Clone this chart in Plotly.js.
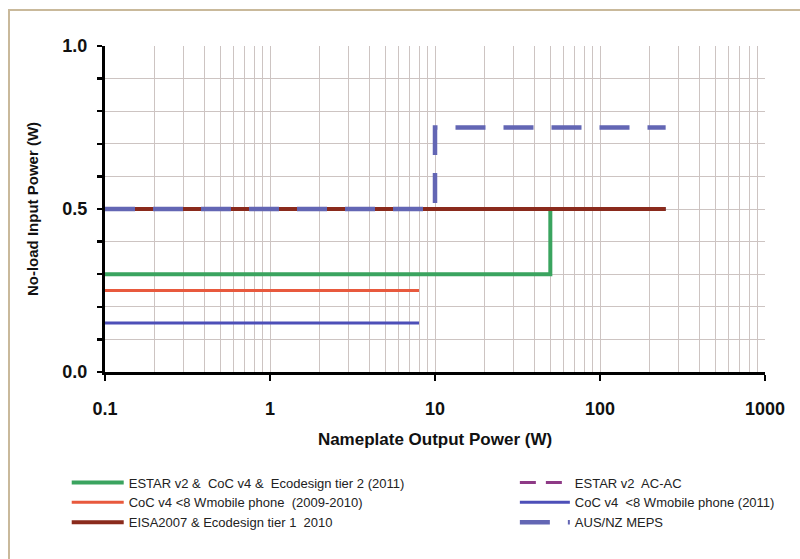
<!DOCTYPE html>
<html>
<head>
<meta charset="utf-8">
<script src="https://cdn.plot.ly/plotly-3.0.1.min.js"></script>
<style>
  html, body { margin: 0; padding: 0; background: #ffffff; }
  #wrap { position: relative; width: 800px; height: 559px; overflow: hidden; }
  #chart { width: 800px; height: 559px; }
  #frame { position: absolute; left: 8px; top: 9px; width: 820px; height: 600px;
           border-left: 2px solid #c9b99b; border-top: 2px solid #c9b99b; pointer-events: none; }
</style>
</head>
<body>
<div id="wrap">
  <div id="chart"></div>
  <div id="frame"></div>
</div>
<script>
// ---- data ----
const estarX = [0.1, 50, 50, 250];
const estarY = [0.3, 0.3, 0.5, 0.5];
const acacX = [0.1, 250];
const acacY = [0.5, 0.5];
const coc0910X = [0.1, 8];
const coc0910Y = [0.25, 0.25];
const coc2011X = [0.1, 8];
const coc2011Y = [0.15, 0.15];
const eisaX = [0.1, 250];
const eisaY = [0.5, 0.5];
const ausnzX = [0.1, 10, 10, 250];
const ausnzY = [0.5, 0.5, 0.75, 0.75];

const seriesNames = [
  'ESTAR v2 &  CoC v4 &  Ecodesign tier 2 (2011)',
  'ESTAR v2  AC-AC',
  'CoC v4 <8 Wmobile phone  (2009-2010)',
  'CoC v4  <8 Wmobile phone (2011)',
  'EISA2007 & Ecodesign tier 1  2010',
  'AUS/NZ MEPS'
];

const xTickVals = [0.1, 1, 10, 100, 1000];
const xTickText = ['0.1', '1', '10', '100', '1000'];
const yTickVals = [0, 0.1, 0.2, 0.3, 0.4, 0.5, 0.6, 0.7, 0.8, 0.9, 1.0];
const yTickText = ['0.0', '', '', '', '', '0.5', '', '', '', '', '1.0'];

const legendFont = { family: '"Liberation Sans Narrow", "Arial Narrow", "Liberation Sans", Arial, sans-serif', size: 13, color: '#222222' };

const traces = [
  { x: estarX, y: estarY, name: seriesNames[0], mode: 'lines', legend: 'legend', legendrank: 1,
    line: { color: '#3aa45f', width: 4 } },
  { x: acacX, y: acacY, name: seriesNames[1], mode: 'lines', legend: 'legend2', legendrank: 1,
    line: { color: '#8e3a86', width: 3, dash: '16px,10px' } },
  { x: eisaX, y: eisaY, name: seriesNames[4], mode: 'lines', legend: 'legend', legendrank: 3,
    line: { color: '#8a2a1c', width: 4 } },
  { x: coc0910X, y: coc0910Y, name: seriesNames[2], mode: 'lines', legend: 'legend', legendrank: 2,
    line: { color: '#e8593d', width: 3 } },
  { x: coc2011X, y: coc2011Y, name: seriesNames[3], mode: 'lines', legend: 'legend2', legendrank: 2,
    line: { color: '#4d4fb8', width: 3 } },
  { x: ausnzX, y: ausnzY, name: seriesNames[5], mode: 'lines', legend: 'legend2', legendrank: 3,
    line: { color: '#6366b4', width: 4.5, dash: '30px,18px' } }
];

const gridColor = '#cdc4c2';

const layout = {
  width: 800, height: 559,
  paper_bgcolor: '#ffffff', plot_bgcolor: '#ffffff',
  margin: { l: 105, r: 35, t: 46, b: 187 },
  font: { family: '"Liberation Sans", Arial, sans-serif', color: '#111111' },
  showlegend: true,
  xaxis: {
    type: 'log', range: [-1, 3],
    tickmode: 'array', tickvals: xTickVals, ticktext: xTickText,
    ticks: 'outside', ticklen: 6, tickwidth: 2.5, tickcolor: '#000000',
    ticklabelstandoff: 12,
    showline: true, linecolor: '#000000', linewidth: 3,
    showgrid: true, gridcolor: gridColor, gridwidth: 1,
    minor: { dtick: 'D1', showgrid: true, gridcolor: gridColor, gridwidth: 1, ticks: '' },
    zeroline: false,
    tickfont: { size: 18, weight: 'bold', color: '#111111' },
    title: { text: 'Nameplate Output Power (W)', font: { size: 17, weight: 'bold', color: '#111111' }, standoff: 16 }
  },
  yaxis: {
    range: [0, 1],
    tickmode: 'array', tickvals: yTickVals, ticktext: yTickText,
    ticks: 'outside', ticklen: 5, tickwidth: 2.5, tickcolor: '#000000',
    ticklabelstandoff: 6,
    showline: true, linecolor: '#000000', linewidth: 3,
    showgrid: true, gridcolor: gridColor, gridwidth: 1,
    zeroline: false,
    tickfont: { size: 18, weight: 'bold', color: '#111111' },
    title: { text: 'No-load Input Power (W)', font: { size: 15, weight: 'bold', color: '#111111' }, standoff: 21 }
  },
  legend: {
    orientation: 'v', x: -0.058, xanchor: 'left', y: -0.293, yanchor: 'top',
    bgcolor: 'rgba(0,0,0,0)', borderwidth: 0, itemwidth: 52,
    font: legendFont, traceorder: 'normal'
  },
  legend2: {
    orientation: 'v', x: 0.621, xanchor: 'left', y: -0.293, yanchor: 'top',
    bgcolor: 'rgba(0,0,0,0)', borderwidth: 0, itemwidth: 50,
    font: legendFont, traceorder: 'normal'
  }
};

Plotly.newPlot('chart', traces, layout, { staticPlot: true, displayModeBar: false });
</script>
</body>
</html>
